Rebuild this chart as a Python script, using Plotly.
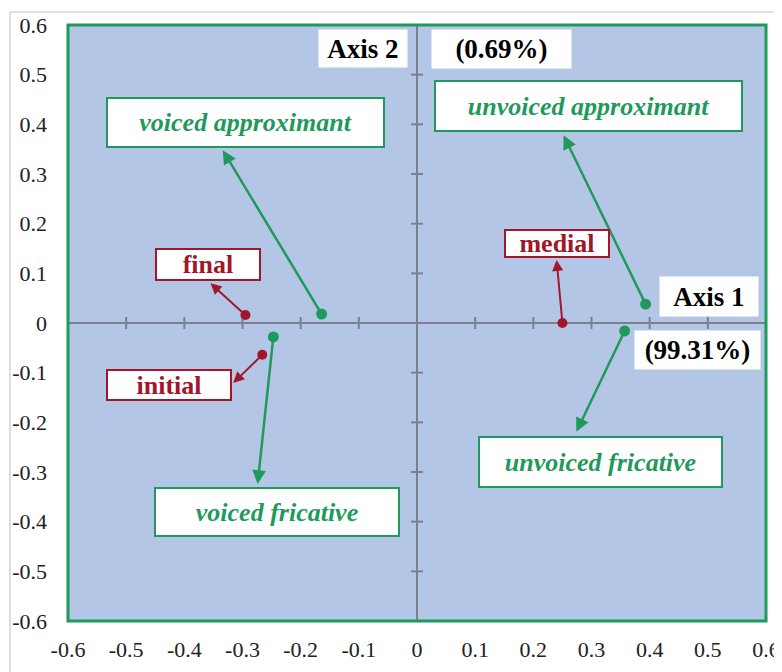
"""Correspondence plot: consonant classes vs. word position."""

import plotly.graph_objects as go

GREEN = "#1f9a5c"
RED = "#a3162a"
BG = "#b4c6e6"
AXIS_GRAY = "#7b8090"

# Points (axis 1, axis 2)
manner_names = ["voiced approximant", "voiced fricative", "unvoiced approximant", "unvoiced fricative"]
manner_x = [-0.164, -0.247, 0.393, 0.357]
manner_y = [0.018, -0.028, 0.038, -0.016]

position_names = ["final", "initial", "medial"]
position_x = [-0.295, -0.266, 0.25]
position_y = [0.016, -0.064, 0.0]

tick_vals = [-0.6, -0.5, -0.4, -0.3, -0.2, -0.1, 0, 0.1, 0.2, 0.3, 0.4, 0.5, 0.6]
tick_text = ["-0.6", "-0.5", "-0.4", "-0.3", "-0.2", "-0.1", "0", "0.1", "0.2", "0.3", "0.4", "0.5", "0.6"]

axis1_inertia = "99.31%"
axis2_inertia = "0.69%"

# label layout: centre (x, y), box size (w, h), arrow head (x, y)
manner_labels = {
    "voiced approximant": ((-0.294, 0.404), (279, 51), (-0.334, 0.348)),
    "voiced fricative": ((-0.240, -0.381), (246, 50), (-0.274, -0.324)),
    "unvoiced approximant": ((0.294, 0.437), (309, 52), (0.252, 0.378)),
    "unvoiced fricative": ((0.316, -0.280), (245, 52), (0.274, -0.219)),
}
position_labels = {
    "final": ((-0.359, 0.118), (106, 33), (-0.355, 0.080)),
    "initial": ((-0.426, -0.125), (126, 32), (-0.316, -0.121)),
    "medial": ((0.240, 0.160), (106, 29), (0.240, 0.127)),
}

fig = go.Figure()

fig.add_trace(go.Scatter(
    x=manner_x, y=manner_y, mode="markers", text=manner_names,
    marker=dict(color=GREEN, size=11), hoverinfo="text", showlegend=False,
))
fig.add_trace(go.Scatter(
    x=position_x, y=position_y, mode="markers", text=position_names,
    marker=dict(color=RED, size=10), hoverinfo="text", showlegend=False,
))

annotations = []


def add_label(text, xy, size, head, tail, color, italic, arrow_w):
    (cx, cy), (w, h) = xy, size
    annotations.append(dict(
        x=head[0], y=head[1], ax=tail[0], ay=tail[1],
        xref="x", yref="y", axref="x", ayref="y",
        text="", showarrow=True, arrowhead=2, arrowsize=1.1,
        arrowwidth=arrow_w, arrowcolor=color, standoff=0, startstandoff=0,
    ))
    label = f"<i>{text}</i>" if italic else text
    annotations.append(dict(
        x=cx, y=cy, xref="x", yref="y", text=f"<b>{label}</b>",
        showarrow=False, width=w - 4, height=h - 4, borderpad=0,
        bgcolor="white", bordercolor=color, borderwidth=2,
        font=dict(family="Liberation Serif", size=26, color=color),
    ))


for i, name in enumerate(manner_names):
    xy, size, head = manner_labels[name]
    add_label(name, xy, size, head, (manner_x[i], manner_y[i]), GREEN, True, 2.5)

for i, name in enumerate(position_names):
    xy, size, head = position_labels[name]
    add_label(name, xy, size, head, (position_x[i], position_y[i]), RED, False, 2)

# axis titles
for text, (cx, cy), (w, h) in [
    ("Axis 2", (-0.093, 0.553), (88, 37)),
    (f"({axis2_inertia})", (0.146, 0.552), (139, 38)),
    ("Axis 1", (0.502, 0.053), (98, 39)),
    (f"({axis1_inertia})", (0.482, -0.054), (125, 38)),
]:
    annotations.append(dict(
        x=cx, y=cy, xref="x", yref="y", text=f"<b>{text}</b>",
        showarrow=False, width=w, height=h, borderpad=0, bgcolor="white",
        font=dict(family="Liberation Serif", size=27, color="black"),
    ))

shapes = [
    # outer light frame
    dict(type="line", xref="paper", yref="paper", x0=-0.083, x1=1.05, y0=1.022, y1=1.022,
         line=dict(color="#d4d4d4", width=1.5)),
    dict(type="line", xref="paper", yref="paper", x0=-0.083, x1=-0.083, y0=-0.1, y1=1.022,
         line=dict(color="#d4d4d4", width=1.5)),
    # zero axes
    dict(type="line", xref="x", yref="paper", x0=0, x1=0, y0=0, y1=1,
         line=dict(color=AXIS_GRAY, width=2), layer="below"),
    dict(type="line", xref="paper", yref="y", x0=0, x1=1, y0=0, y1=0,
         line=dict(color=AXIS_GRAY, width=2), layer="below"),
]
for v in tick_vals:
    if v in (0, -0.6, 0.6):
        continue
    shapes.append(dict(type="line", xref="x", yref="y", x0=v, x1=v, y0=-6, y1=6,
                       ysizemode="pixel", yanchor=0, line=dict(color=AXIS_GRAY, width=2),
                       layer="below"))
    shapes.append(dict(type="line", xref="x", yref="y", y0=v, y1=v, x0=-6, x1=6,
                       xsizemode="pixel", xanchor=0, line=dict(color=AXIS_GRAY, width=2),
                       layer="below"))
# green frame
shapes.append(dict(type="rect", xref="paper", yref="paper", x0=0, x1=1, y0=0, y1=1,
                   line=dict(color=GREEN, width=3)))

fig.update_layout(
    width=782, height=672,
    margin=dict(l=60, r=24, t=17, b=59),
    paper_bgcolor="white", plot_bgcolor=BG,
    annotations=annotations, shapes=shapes,
    showlegend=False,
    font=dict(family="Liberation Serif", size=22, color="#222"),
)
axis_common = dict(
    range=[-0.6, 0.6], tickvals=tick_vals, ticktext=tick_text,
    showgrid=False, zeroline=False, showline=False, ticks="", automargin=False,
    tickfont=dict(family="Liberation Serif", size=22, color="#222"),
)
fig.update_xaxes(**axis_common, ticklabelstandoff=13)
fig.update_yaxes(**axis_common, ticklabelstandoff=20)

fig.write_html("out.html")
